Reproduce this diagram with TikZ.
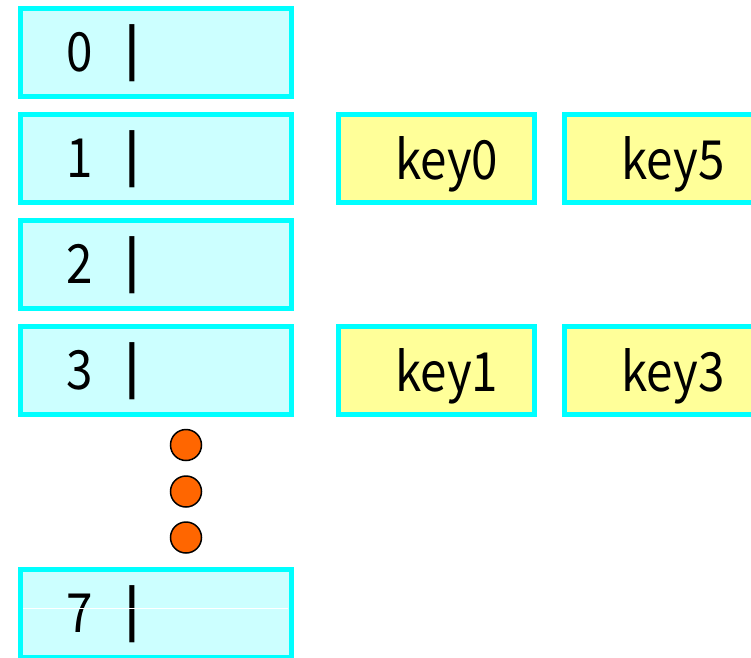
\documentclass[tikz,border=0pt]{standalone}
\usepackage{fontspec}
\setmainfont[FakeStretch=0.88]{Noto Sans CJK JP}
\definecolor{slotedge}{HTML}{00FFFF}
\definecolor{slotfill}{HTML}{CCFFFF}
\definecolor{keyfill}{HTML}{FFFF99}
\definecolor{dotfill}{HTML}{FF6600}
\begin{document}
\begin{tikzpicture}[x=1pt,y=-1pt,
  slot/.style={draw=slotedge, fill=slotfill, line width=5pt,
    minimum width=271pt, minimum height=88pt, inner sep=0pt, outer sep=0pt},
  keybox/.style={draw=slotedge, fill=keyfill, line width=5pt,
    minimum width=196pt, minimum height=88pt, inner sep=0pt, outer sep=0pt},
  numtext/.style={anchor=base west, inner sep=0pt, font=\fontsize{54}{64}\selectfont},
  barmark/.style={inner sep=0pt, font=\fontsize{50}{60}\selectfont\bfseries},
  keytext/.style={anchor=base west, inner sep=0pt, font=\fontsize{54}{64}\selectfont},
  ellip/.style={circle, draw=black, line width=1.5pt, fill=dotfill,
    minimum size=31pt, inner sep=0pt}]
\useasboundingbox (0,0) rectangle (751,657);
\clip (0,0) rectangle (751,657);

% hash table slots
\foreach \i/\y in {0/52,1/158,2/264,3/370,7/613}{
  \node[slot] (s\i) at (155.5,\y) {};
  \node[numtext] (d\i) at ([xshift=46pt,yshift=-19.5pt]s\i.west) {\i};
  \node[barmark] (b\i) at ([xshift=112.5pt,yshift=-1.5pt]s\i.west) {|};
}
\draw[white, line width=0.8pt] ([xshift=3pt,yshift=5pt]s7.west) -- ([xshift=-3pt,yshift=5pt]s7.east);

% chained keys
\foreach \n/\x/\y in {0/436/158,5/662.5/158,1/436/370,3/662.5/370}{
  \node[keybox] (k\n) at (\x,\y) {};
  \node[keytext] (t\n) at ([xshift=57pt,yshift=-21pt]k\n.west) {key\n};
}

% ellipsis between slot 3 and slot 7
\node[ellip] (e1) at (186,445) {};
\node[ellip] (e2) at (186,491.5) {};
\node[ellip] (e3) at (186,537.5) {};
\end{tikzpicture}
\end{document}
